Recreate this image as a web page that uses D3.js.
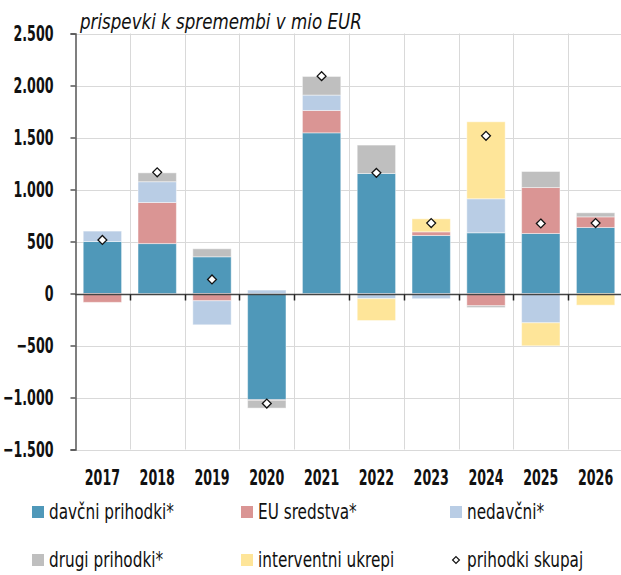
<!DOCTYPE html>
<html>
<head>
<meta charset="utf-8">
<style>
html, body { margin: 0; background: #fff; }
svg { display: block; }
text { font-family: "DejaVu Sans", sans-serif; fill: #111; }
.grid line { stroke: #d9d9d9; stroke-width: 1; }
.tick-label { font-size: 22px; font-weight: bold; }
.legend text { font-size: 21px; }
</style>
<script src="https://cdn.jsdelivr.net/npm/d3@7"></script>
</head>
<body>
<svg id="chart" width="621" height="575"></svg>
<script>
var years = ["2017", "2018", "2019", "2020", "2021", "2022", "2023", "2024", "2025", "2026"];

var davcni     = [500, 480, 353, -1022, 1545, 1154, 558, 584, 577, 635];
var euSredstva = [-85, 395, -70, -5, 215, 0, 35, -118, 442, 102];
var nedavcni   = [100, 200, -231, 33, 148, -50, -50, 327, -282, 0];
var drugi      = [0, 85, 77, -75, 179, 273, 0, -17, 154, 39];
var intervent  = [0, 0, 0, 0, 0, -210, 125, 740, -221, -112];
var skupaj     = [515, 1165, 135, -1058, 2090, 1160, 677, 1516, 673, 677];

var yTicks = [-1500, -1000, -500, 0, 500, 1000, 1500, 2000, 2500];

var series = [
  {key: "davcni", name: "davčni prihodki*", color: "#4f98b9", values: davcni},
  {key: "eu", name: "EU sredstva*", color: "#da9594", values: euSredstva},
  {key: "nedavcni", name: "nedavčni*", color: "#b9cde5", values: nedavcni},
  {key: "drugi", name: "drugi prihodki*", color: "#bfbfbf", values: drugi},
  {key: "intervent", name: "interventni ukrepi", color: "#fee599", values: intervent}
];

var svg = d3.select("#chart");

// squeeze texts horizontally around their anchor (the original uses a condensed face)
function condense(sel, k) {
  sel.each(function() {
    var t = d3.select(this);
    var x0 = +t.attr("x") || 0;
    t.attr("x", x0 / k).attr("transform", "scale(" + k + ",1)");
  });
}

var x = d3.scaleBand().domain(years).range([75, 623]).paddingInner(0.3).paddingOuter(0.15);
var y = d3.scaleLinear().domain([-1500, 2500]).range([449.5, 33.5]);

var rows = years.map(function(yr, i) {
  var r = {year: yr};
  series.forEach(function(s) { r[s.key] = s.values[i]; });
  return r;
});
var stacked = d3.stack()
  .keys(series.map(function(s) { return s.key; }))
  .offset(d3.stackOffsetDiverging)(rows);

var step = x.step();
var bounds = years.map(function(yr) { return x(yr) - x.paddingInner() * step / 2; });
bounds.push(623);

var grid = svg.append("g").attr("class", "grid");
grid.selectAll("line.h")
  .data(yTicks)
  .enter().append("line")
    .attr("class", "h")
    .attr("x1", 75).attr("x2", 623)
    .attr("y1", function(d) { return Math.round(y(d)) + 0.5; })
    .attr("y2", function(d) { return Math.round(y(d)) + 0.5; });
grid.selectAll("line.v")
  .data(bounds.slice(1))
  .enter().append("line")
    .attr("class", "v")
    .attr("x1", function(d) { return Math.round(d) + 0.5; })
    .attr("x2", function(d) { return Math.round(d) + 0.5; })
    .attr("y1", y(2500)).attr("y2", y(-1500));

// bars
svg.append("g")
  .selectAll("g")
  .data(stacked)
  .enter().append("g")
    .attr("fill", function(d, i) { return series[i].color; })
  .selectAll("rect")
  .data(function(d) { return d.filter(function(p) { return p[1] - p[0] !== 0; }); })
  .enter().append("rect")
    .attr("x", function(d) { return x(d.data.year); })
    .attr("width", x.bandwidth())
    .attr("y", function(d) { return y(d[1]); })
    .attr("height", function(d) { return y(d[0]) - y(d[1]); })
    .attr("stroke", "#fff")
    .attr("stroke-opacity", 0.45)
    .attr("stroke-width", 1);

// y axis
var yAxis = d3.axisLeft(y)
  .tickValues(yTicks)
  .tickSize(5)
  .tickPadding(17)
  .tickFormat(function(d) { return d3.format(",")(d).replace(/,/g, "."); });
var ya = svg.append("g").attr("transform", "translate(75.5,0)").call(yAxis);
ya.select(".domain").attr("stroke", "#555").attr("stroke-width", 1.5);
ya.selectAll(".tick line").attr("stroke", "#555").attr("stroke-width", 1.5);
ya.selectAll(".tick text").attr("class", "tick-label").attr("fill", "#111").attr("font-size", null).attr("font-family", null);

// one squeeze factor for all axis labels, taken from "2.500" (~40px wide)
var probe = ya.selectAll(".tick text").filter(function(d) { return d === 2500; }).node();
var kAxis = 40 / probe.getComputedTextLength();
condense(ya.selectAll(".tick text"), kAxis);

// zero line with ticks
var zeroY = Math.round(y(0)) + 0.5;
svg.append("line")
  .attr("x1", 75).attr("x2", 623)
  .attr("y1", zeroY).attr("y2", zeroY)
  .attr("stroke", "#444").attr("stroke-width", 1.5);
svg.append("g").selectAll("line")
  .data(bounds.slice(1, -1))
  .enter().append("line")
    .attr("x1", function(d) { return Math.round(d) + 0.5; })
    .attr("x2", function(d) { return Math.round(d) + 0.5; })
    .attr("y1", zeroY).attr("y2", zeroY + 6)
    .attr("stroke", "#222").attr("stroke-width", 1.5);

// x labels
var xl = svg.append("g").selectAll("text")
  .data(years)
  .enter().append("text")
    .attr("class", "tick-label")
    .attr("x", function(d) { return x(d) + x.bandwidth() / 2; })
    .attr("y", 485)
    .attr("text-anchor", "middle")
    .text(function(d) { return d; });
condense(xl, kAxis);

// totals
var diamond = d3.symbol().type(d3.symbolDiamond2).size(50);
svg.append("g").selectAll("path")
  .data(skupaj)
  .enter().append("path")
    .attr("d", diamond)
    .attr("transform", function(d, i) { return "translate(" + (x(years[i]) + x.bandwidth() / 2) + "," + y(d) + ")"; })
    .attr("fill", "#fff")
    .attr("stroke", "#111")
    .attr("stroke-width", 1.3);

// title
var title = svg.append("text")
  .attr("x", 80)
  .attr("y", 29)
  .attr("font-style", "italic")
  .attr("font-size", 22)
  .text("prispevki k spremembi v mio EUR");
condense(title, 282 / title.node().getComputedTextLength());

// legend
var legendItems = series.map(function(s) { return {name: s.name, color: s.color}; });
legendItems.push({name: "prihodki skupaj", diamond: true});
var legend = svg.append("g").attr("class", "legend");
var colX = [32, 241, 450];
var rowY = [512, 560];
legendItems.forEach(function(d, i) {
  var gx = colX[i % 3], gy = rowY[Math.floor(i / 3)];
  var g = legend.append("g").attr("transform", "translate(" + gx + "," + gy + ")");
  if (d.diamond) {
    g.append("path")
      .attr("d", d3.symbol().type(d3.symbolDiamond2).size(30))
      .attr("transform", "translate(6,0)")
      .attr("fill", "#fff").attr("stroke", "#111").attr("stroke-width", 1.2);
  } else {
    g.append("rect")
      .attr("x", 0).attr("y", -6)
      .attr("width", 12).attr("height", 12)
      .attr("fill", d.color);
  }
  g.append("text")
    .attr("x", 17)
    .attr("y", 6.5)
    .text(d.name);
});
var lt = legend.selectAll("text");
var kLegend = 125 / lt.filter(function() { return this.textContent === "davčni prihodki*"; }).node().getComputedTextLength();
condense(lt, kLegend);
</script>
</body>
</html>
